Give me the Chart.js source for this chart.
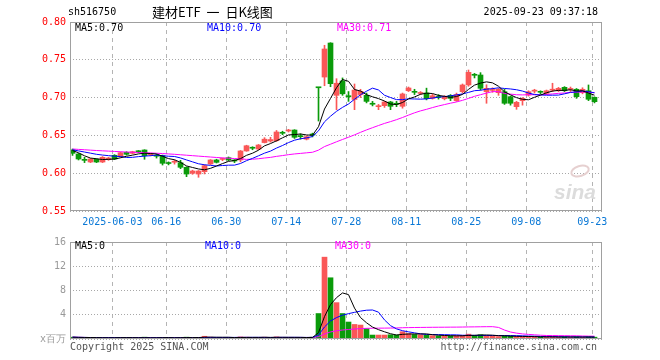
<!DOCTYPE html>
<html>
<head>
<meta charset="utf-8">
<script src="https://cdn.jsdelivr.net/npm/chart.js@4.4.1/dist/chart.umd.min.js"></script>
<style>
  body { margin: 0; background: #fff; }
  #wrap { position: relative; width: 660px; height: 360px; overflow: hidden; font-family: 'DejaVu Sans Mono', monospace; font-size: 10px; }
  #wrap canvas { position: absolute; left: 0; }
  .t { position: absolute; white-space: nowrap; line-height: 12px; }
</style>
</head>
<body>
<div id="wrap">
  <canvas id="kline" width="660" height="232" style="top:0"></canvas>
  <canvas id="vol" width="660" height="128" style="top:232px"></canvas>

  <div class="t" style="left:68px;top:6px;color:#000">sh516750</div>
  <div class="t" style="left:152px;top:3px;font:13px 'Noto Sans CJK SC';line-height:17px;word-spacing:3px;color:#000">建材ETF 一 日K线图</div>
  <div class="t" style="right:62px;top:6px;color:#000">2025-09-23 09:37:18</div>

  <div class="t" style="left:75px;top:22px;color:#000">MA5:0.70</div>
  <div class="t" style="left:207px;top:22px;color:#0000ff">MA10:0.70</div>
  <div class="t" style="left:337px;top:22px;color:#ff00ff">MA30:0.71</div>

  <div class="t" style="left:75px;top:240px;color:#000">MA5:0</div>
  <div class="t" style="left:205px;top:240px;color:#0000ff">MA10:0</div>
  <div class="t" style="left:335px;top:240px;color:#ff00ff">MA30:0</div>

  <div class="t" style="left:70px;top:341px;color:#555">Copyright 2025 SINA.COM</div>
  <div class="t" style="right:63px;top:341px;color:#555">http://finance.sina.com.cn</div>
</div>

<script>
// trading days shown (2025)
const dates = ['05-22','05-23','05-26','05-27','05-28','05-29','05-30',
  '06-03','06-04','06-05','06-06','06-09','06-10','06-11','06-12','06-13','06-16','06-17','06-18','06-19','06-20',
  '06-23','06-24','06-25','06-26','06-27','06-30',
  '07-01','07-02','07-03','07-04','07-07','07-08','07-09','07-10','07-11','07-14','07-15','07-16','07-17','07-18',
  '07-21','07-22','07-23','07-24','07-25','07-28','07-29','07-30','07-31',
  '08-01','08-04','08-05','08-06','08-07','08-08','08-11','08-12','08-13','08-14','08-15','08-18','08-19','08-20',
  '08-21','08-22','08-25','08-26','08-27','08-28','08-29',
  '09-01','09-02','09-03','09-04','09-05','09-08','09-09','09-10','09-11','09-12','09-15','09-16','09-17','09-18',
  '09-19','09-22','09-23'];

const tickDates  = ['06-03','06-16','06-30','07-14','07-28','08-11','08-25','09-08','09-23'];
const tickLabels = ['2025-06-03','06-16','06-30','07-14','07-28','08-11','08-25','09-08','09-23'];
const priceTicks = [0.55, 0.60, 0.65, 0.70, 0.75, 0.80];
const volTicks   = [0, 4, 8, 12, 16];

const open = [
  0.6307,0.6254,0.6180,0.6148,0.6184,0.6148,0.6180,0.6237,0.6218,0.6276,
  0.6263,0.6290,0.6307,0.6245,0.6235,0.6232,0.6135,0.6145,0.6139,0.6078,
  0.5999,0.5989,0.6020,0.6122,0.6175,0.6182,0.6205,0.6168,0.6175,0.6294,
  0.6335,0.6320,0.6405,0.6425,0.6430,0.6535,0.6558,0.6571,0.6488,0.6450,
  0.6510,0.7136,0.7272,0.7722,0.7030,0.7220,0.7025,0.6975,0.7040,0.7030,
  0.6920,0.6880,0.6893,0.6942,0.6918,0.6885,0.7091,0.7078,0.7055,0.7061,
  0.6990,0.7008,0.6985,0.7030,0.6960,0.7078,0.7167,0.7300,0.7299,0.7078,
  0.7095,0.7065,0.7078,0.7012,0.6880,0.6959,0.7034,0.7085,0.7075,0.7057,
  0.7098,0.7091,0.7136,0.7108,0.7110,0.7065,0.7091,0.7004];
const close = [
  0.6263,0.6188,0.6170,0.6188,0.6148,0.6210,0.6201,0.6188,0.6271,0.6250,
  0.6284,0.6284,0.6232,0.6250,0.6225,0.6131,0.6128,0.6155,0.6078,0.5989,
  0.6029,0.6029,0.6100,0.6175,0.6144,0.6188,0.6175,0.6161,0.6294,0.6363,
  0.6330,0.6373,0.6450,0.6445,0.6545,0.6528,0.6562,0.6475,0.6483,0.6483,
  0.6505,0.7130,0.7643,0.7184,0.7190,0.7050,0.7010,0.7100,0.7083,0.6950,
  0.6912,0.6888,0.6942,0.6885,0.6912,0.7048,0.7127,0.7070,0.7062,0.6986,
  0.7025,0.7002,0.7012,0.6990,0.7040,0.7167,0.7334,0.7295,0.7123,0.7123,
  0.7100,0.7110,0.6925,0.6925,0.6938,0.6990,0.7078,0.7090,0.7070,0.7091,
  0.7102,0.7123,0.7091,0.7112,0.7012,0.7110,0.6978,0.6946];
const high = [
  0.6320,0.6262,0.6210,0.6195,0.6190,0.6220,0.6210,0.6245,0.6280,0.6285,
  0.6290,0.6300,0.6310,0.6265,0.6250,0.6240,0.6150,0.6175,0.6170,0.6085,
  0.6040,0.6035,0.6110,0.6180,0.6185,0.6200,0.6215,0.6180,0.6300,0.6370,
  0.6350,0.6380,0.6470,0.6475,0.6565,0.6555,0.6580,0.6575,0.6520,0.6495,
  0.6530,0.7136,0.7692,0.7726,0.7250,0.7260,0.7080,0.7180,0.7110,0.7060,
  0.6950,0.6910,0.6950,0.6950,0.6950,0.7060,0.7140,0.7110,0.7080,0.7125,
  0.7045,0.7040,0.7025,0.7040,0.7060,0.7180,0.7365,0.7320,0.7330,0.7170,
  0.7130,0.7120,0.7110,0.7020,0.6950,0.7000,0.7090,0.7110,0.7090,0.7100,
  0.7190,0.7135,0.7145,0.7140,0.7120,0.7130,0.7167,0.7010];
const low = [
  0.6235,0.6175,0.6140,0.6140,0.6140,0.6140,0.6170,0.6180,0.6210,0.6240,
  0.6255,0.6270,0.6184,0.6230,0.6200,0.6108,0.6110,0.6120,0.6060,0.5954,
  0.5985,0.5946,0.5990,0.6115,0.6135,0.6165,0.6165,0.6140,0.6150,0.6290,
  0.6310,0.6310,0.6400,0.6410,0.6420,0.6510,0.6545,0.6460,0.6450,0.6440,
  0.6480,0.6690,0.7157,0.7144,0.6840,0.7030,0.6950,0.6840,0.7000,0.6930,
  0.6890,0.6840,0.6870,0.6840,0.6880,0.6860,0.7080,0.7040,0.7040,0.6970,
  0.6980,0.6980,0.6970,0.6960,0.6950,0.7060,0.7150,0.7260,0.7100,0.6925,
  0.7070,0.7030,0.6910,0.6900,0.6845,0.6900,0.7020,0.7060,0.7050,0.7040,
  0.7080,0.7080,0.7080,0.7080,0.6990,0.7050,0.6960,0.6930];
// volume, millions of shares
const volume = [
  0.30,0.25,0.22,0.20,0.18,0.22,0.20,0.25,0.28,0.20,
  0.18,0.15,0.30,0.20,0.18,0.28,0.20,0.18,0.25,0.30,
  0.22,0.25,0.45,0.30,0.22,0.20,0.25,0.20,0.35,0.30,
  0.22,0.25,0.30,0.25,0.35,0.25,0.22,0.28,0.25,0.22,
  0.30,4.2,13.5,10.1,6.0,4.2,2.8,2.4,2.3,1.7,
  0.65,0.65,0.65,0.70,0.65,1.2,0.90,0.75,0.70,0.65,
  0.55,0.50,0.50,0.50,0.55,0.60,0.80,0.60,0.70,0.60,
  0.45,0.40,0.50,0.45,0.40,0.35,0.40,0.35,0.30,0.35,
  0.35,0.30,0.35,0.30,0.35,0.30,0.35,0.30];

// MA values for the first days (their windows start before the visible range)
const ma5Lead  = [0.6300,0.6270,0.6230,0.6200];
const ma10Lead = [0.6310,0.6295,0.6280,0.6265,0.6250,0.6240,0.6232,0.6225,0.6220];
const ma30Lead = [0.6320,0.6315,0.6310,0.6305,0.6300,0.6296,0.6292,0.6288,0.6284,0.6280,
  0.6277,0.6274,0.6271,0.6268,0.6264,0.6260,0.6255,0.6250,0.6244,0.6238,
  0.6232,0.6226,0.6220,0.6214,0.6208,0.6203,0.6198,0.6194,0.6190];

const RED = '#fa5757';
const GREEN = '#0a9b0a';
const MONO = "'DejaVu Sans Mono', monospace";

function avg(a) { return a.reduce((s, v) => s + v, 0) / a.length; }
function movingAvg(src, n, lead) {
  return src.map((_, i) => {
    if (i < n - 1) return lead ? lead[i] : avg(src.slice(0, i + 1));
    return avg(src.slice(i - n + 1, i + 1));
  });
}

const candleColor = close.map((c, i) => c >= open[i] ? RED : GREEN);
const tickIdx = tickDates.map(d => dates.indexOf(d));
const xMin = -0.42, xMax = 88.25;

function lineSet(values, color) {
  return {
    type: 'line',
    data: values.map((v, i) => ({ x: i, y: v })),
    borderColor: color,
    borderWidth: 1,
    pointRadius: 0,
    tension: 0,
    order: 0
  };
}

function xScale(showLabels) {
  return {
    type: 'linear',
    min: xMin,
    max: xMax,
    offset: false,
    afterBuildTicks: s => { s.ticks = tickIdx.map(i => ({ value: i - 0.37 })); },
    afterFit: s => { s.height = 21; },
    grid: { color: '#b4b4b4', drawTicks: false, offset: false },
    border: { display: false, dash: [4, 4] },
    ticks: {
      display: showLabels,
      autoSkip: false,
      maxRotation: 0,
      padding: 5,
      color: '#0a78d6',
      font: { family: MONO, size: 10 },
      callback: (v, idx) => tickLabels[idx]
    }
  };
}

const framePlugin = {
  id: 'frame',
  afterDraw(chart) {
    const { ctx, chartArea: a } = chart;
    ctx.save();
    ctx.strokeStyle = '#a0a0a0';
    ctx.lineWidth = 1;
    ctx.strokeRect(a.left + 0.5, a.top + 0.5, a.right - a.left - 1, a.bottom - a.top - 1);
    ctx.restore();
  }
};

const logoPlugin = {
  id: 'logo',
  beforeDatasetsDraw(chart) {
    const { ctx, chartArea: a } = chart;
    ctx.save();
    ctx.fillStyle = '#dcdcdc';
    ctx.font = "italic bold 21px 'Liberation Sans', sans-serif";
    ctx.textAlign = 'right';
    ctx.fillText('sina', a.right - 6, a.bottom - 12);
    ctx.beginPath();
    ctx.ellipse(a.right - 22, a.bottom - 40, 9, 5, -0.3, 0, Math.PI * 2);
    ctx.strokeStyle = '#e6d0d0';
    ctx.lineWidth = 2;
    ctx.stroke();
    ctx.restore();
  }
};

new Chart(document.getElementById('kline'), {
  type: 'bar',
  data: {
    datasets: [
      lineSet(movingAvg(close, 5, ma5Lead), '#000000'),
      lineSet(movingAvg(close, 10, ma10Lead), '#0000ff'),
      lineSet(movingAvg(close, 30, ma30Lead), '#ff00ff'),
      {
        data: open.map((o, i) => ({ x: i, y: [Math.min(o, close[i]), Math.max(o, close[i])] })),
        backgroundColor: candleColor,
        barThickness: 5,
        minBarLength: 1,
        grouped: false,
        order: 1
      },
      {
        data: low.map((l, i) => ({ x: i, y: [l, high[i]] })),
        backgroundColor: candleColor,
        barThickness: 1,
        minBarLength: 1,
        grouped: false,
        order: 2
      }
    ]
  },
  options: {
    responsive: false,
    animation: false,
    events: [],
    layout: { padding: { left: 0, right: 58, top: 22, bottom: 0 } },
    plugins: { legend: { display: false }, tooltip: { enabled: false } },
    scales: {
      x: xScale(true),
      y: {
        min: 0.55,
        max: 0.80,
        afterBuildTicks: s => { s.ticks = priceTicks.map(v => ({ value: v })); },
        afterFit: s => { s.width = 70; },
        grid: { color: '#a8a8a8', drawTicks: false },
        border: { display: false, dash: [1, 2] },
        ticks: { padding: 4, color: '#ff0000', font: { family: MONO, size: 10 }, callback: v => v.toFixed(2) }
      }
    }
  },
  plugins: [logoPlugin, framePlugin]
});

new Chart(document.getElementById('vol'), {
  type: 'bar',
  data: {
    datasets: [
      lineSet(movingAvg(volume, 5), '#000000'),
      lineSet(movingAvg(volume, 10), '#0000ff'),
      lineSet(movingAvg(volume, 30), '#ff00ff'),
      {
        data: volume.map((v, i) => ({ x: i, y: v })),
        backgroundColor: candleColor,
        barThickness: 5,
        grouped: false,
        order: 1
      }
    ]
  },
  options: {
    responsive: false,
    animation: false,
    events: [],
    layout: { padding: { left: 0, right: 58, top: 8, bottom: 0 } },
    plugins: { legend: { display: false }, tooltip: { enabled: false } },
    scales: {
      x: xScale(false),
      y: {
        min: 0,
        max: 16,
        afterBuildTicks: s => { s.ticks = volTicks.map(v => ({ value: v })); },
        afterFit: s => { s.width = 70; },
        grid: { color: '#a8a8a8', drawTicks: false },
        border: { display: false, dash: [1, 2] },
        ticks: { padding: 4, color: '#999999', font: { family: MONO, size: 10 }, callback: v => v === 0 ? 'x百万' : String(v) }
      }
    }
  },
  plugins: [framePlugin]
});
</script>
</body>
</html>
